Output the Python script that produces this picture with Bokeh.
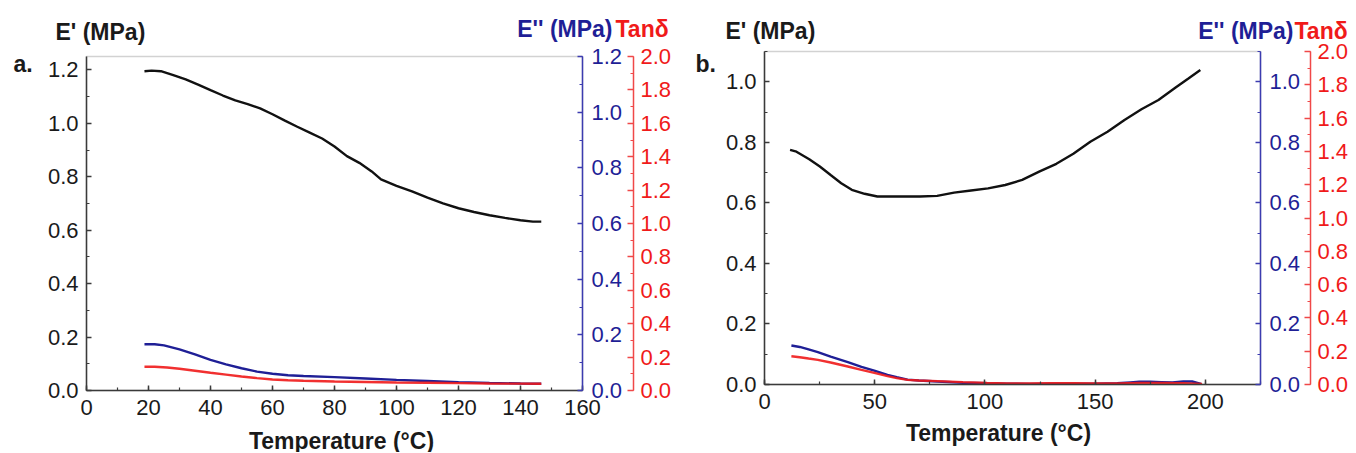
from bokeh.plotting import figure
from bokeh.models import (Range1d, LinearAxis, SingleIntervalTicker, NumeralTickFormatter,
                          Label, BoxAnnotation)
from bokeh.layouts import row
from bokeh.embed import file_html
from bokeh.resources import INLINE

# ---------------- data: panel a ----------------
a_temp_storage = [18.7, 21, 24, 28, 32, 36, 40, 44, 48, 52, 56, 60, 64, 68, 72, 76, 80, 84,
                  88, 92, 95, 100, 105, 110, 115, 120, 125, 130, 135, 140, 144, 146.7]
a_storage = [1.195, 1.197, 1.195, 1.18, 1.164, 1.145, 1.124, 1.104, 1.086, 1.072, 1.056, 1.034,
             1.01, 0.987, 0.965, 0.943, 0.913, 0.877, 0.852, 0.82, 0.79, 0.766, 0.745, 0.722,
             0.700, 0.682, 0.668, 0.656, 0.646, 0.637, 0.632, 0.632]
a_temp_loss = [18.7, 22, 25, 30, 35, 40, 45, 50, 55, 60, 65, 70, 80, 90, 100, 110, 120, 130, 140, 146.7]
a_loss = [0.166, 0.166, 0.162, 0.148, 0.13, 0.110, 0.094, 0.080, 0.068, 0.060, 0.055, 0.052,
          0.048, 0.043, 0.038, 0.034, 0.030, 0.027, 0.025, 0.024]
a_temp_tan = [18.7, 22, 26, 30, 35, 40, 45, 50, 55, 60, 65, 70, 80, 90, 100, 110, 120, 130, 140, 146.7]
a_tan = [0.142, 0.142, 0.138, 0.13, 0.118, 0.106, 0.095, 0.084, 0.074, 0.066, 0.061, 0.058,
         0.054, 0.051, 0.048, 0.046, 0.044, 0.042, 0.041, 0.040]

# ---------------- data: panel b ----------------
b_temp_storage = [11.6, 14.5, 20.3, 25.1, 30, 34.8, 39.6, 45.4, 51.2, 55, 62.8, 70.5, 78.3, 86,
                  93.7, 101.4, 109.2, 116.9, 124.6, 132.4, 140.1, 147.8, 155.6, 163.3, 171,
                  178.7, 186.5, 192.3, 197.7]
b_storage = [0.775, 0.769, 0.744, 0.72, 0.692, 0.665, 0.643, 0.63, 0.621, 0.621, 0.621, 0.621,
             0.623, 0.634, 0.641, 0.648, 0.659, 0.676, 0.703, 0.729, 0.762, 0.802, 0.835, 0.874,
             0.909, 0.94, 0.981, 1.011, 1.039]
b_temp_loss = [12.2, 16, 20, 24.2, 30, 37.8, 44, 49.8, 55.8, 60, 64.9, 70, 78.4, 90, 101, 110,
               120, 130, 140, 150, 160, 166, 170, 175, 180, 185, 190, 194, 198]
b_loss = [0.129, 0.124, 0.116, 0.107, 0.092, 0.074, 0.058, 0.046, 0.032, 0.024, 0.016, 0.013,
          0.010, 0.006, 0.004, 0.003, 0.002, 0.003, 0.003, 0.003, 0.004, 0.007, 0.009, 0.009,
          0.008, 0.007, 0.010, 0.010, 0.002]
b_temp_tan = [12.2, 16, 20, 24.2, 30, 37.8, 44, 49.8, 55.8, 60, 64.9, 70, 78.4, 90, 101, 110,
              120, 130, 140, 150, 160, 170, 180, 190, 198.5]
b_tan = [0.170, 0.164, 0.156, 0.148, 0.132, 0.108, 0.088, 0.070, 0.050, 0.038, 0.028, 0.024,
         0.020, 0.014, 0.010, 0.007, 0.006, 0.008, 0.008, 0.006, 0.006, 0.010, 0.009, 0.008, 0.004]

# ---------------- style ----------------
FONT = "Liberation Sans"
BLACK = "#1a1a1a"
AXGRAY = "#3a3a3a"
BLUE = "#1f1f96"
BLUE_AX = "#3c3cb0"
RED = "#f01a1a"
RED_AX = "#f04848"
TICK_FS = "22px"
TITLE_FS = "23px"
FIG_H = 452


def style_axis(ax, line_color, text_color, tin, minor_in, standoff):
    ax.axis_line_color = line_color
    ax.axis_line_width = 1.5
    ax.major_tick_line_color = line_color
    ax.minor_tick_line_color = line_color
    ax.major_tick_line_width = 1.5
    ax.minor_tick_line_width = 1.2
    ax.major_tick_in = tin
    ax.major_tick_out = 0
    ax.minor_tick_in = minor_in
    ax.minor_tick_out = 0
    ax.major_label_text_font = FONT
    ax.major_label_text_font_size = TICK_FS
    ax.major_label_text_color = text_color
    ax.major_label_standoff = standoff


def padded(lo, hi, pad_lo, pad_hi, span):
    k = (hi - lo) / span
    return (lo - pad_lo * k, hi + pad_hi * k)


def make_panel(width, box, xr, yr, blue_r, red_r, x_interval, red_gap,
               storage, loss, tan, texts):
    L, R, T, B = box                      # plot-area box in canvas pixels
    W, H = R - L, B - T
    xfull = padded(xr[0], xr[1], L, width - R, W)
    yfull = padded(yr[0], yr[1], FIG_H - B, T, H)
    bfull = padded(blue_r[0], blue_r[1], FIG_H - B, T, H)
    rfull = padded(red_r[0], red_r[1], FIG_H - B, T, H)

    p = figure(width=width, height=FIG_H, x_range=Range1d(*xfull), y_range=Range1d(*yfull),
               output_backend="svg", toolbar_location=None, title=None,
               min_border=0, min_border_left=0, min_border_right=0,
               min_border_top=0, min_border_bottom=0)
    p.grid.visible = False
    p.outline_line_color = None
    p.background_fill_color = "white"
    p.border_fill_color = "white"

    # plot-area frame (top border visible; others covered by axes)
    p.add_layout(BoxAnnotation(left=xr[0], right=xr[1], bottom=yr[0], top=yr[1],
                               fill_color=None, line_color="#6a6a6a", line_width=1.5,
                               level="underlay"))

    xa = p.xaxis[0]
    xa.ticker = SingleIntervalTicker(interval=x_interval, num_minor_ticks=2)
    xa.formatter = NumeralTickFormatter(format="0")
    xa.fixed_location = yr[0]
    xa.bounds = xr
    style_axis(xa, AXGRAY, BLACK, 5, 3, 9)

    ya = p.yaxis[0]
    ya.ticker = SingleIntervalTicker(interval=0.2, num_minor_ticks=2)
    ya.formatter = NumeralTickFormatter(format="0.0")
    ya.fixed_location = xr[0]
    ya.bounds = yr
    style_axis(ya, AXGRAY, BLACK, 5, 3, 8)

    p.extra_y_ranges = {"blue": Range1d(*bfull), "red": Range1d(*rfull)}
    blue_ax = LinearAxis(y_range_name="blue",
                         ticker=SingleIntervalTicker(interval=0.2, num_minor_ticks=2),
                         formatter=NumeralTickFormatter(format="0.0"),
                         fixed_location=xr[1], bounds=(blue_r[0], blue_r[1] + 0.0001))
    style_axis(blue_ax, BLUE_AX, BLUE, 5, 3, 9)
    red_ax = LinearAxis(y_range_name="red",
                        ticker=SingleIntervalTicker(interval=0.2, num_minor_ticks=2),
                        formatter=NumeralTickFormatter(format="0.0"),
                        fixed_location=xr[1] + red_gap * (xr[1] - xr[0]) / W,
                        bounds=(red_r[0], red_r[1] + 0.0001))
    style_axis(red_ax, RED_AX, RED, 6, 3, 7)
    p.add_layout(blue_ax, "right")
    p.add_layout(red_ax, "right")

    p.line(storage[0], storage[1], line_color="#111111", line_width=2.4)
    p.line(loss[0], loss[1], line_color=BLUE, line_width=2.4, y_range_name="blue")
    p.line(tan[0], tan[1], line_color=RED, line_width=2.4, y_range_name="red", line_alpha=0.9)

    def lab(text, px, py, color, align):
        x = xfull[0] + px * (xfull[1] - xfull[0]) / width
        y = yfull[1] - py * (yfull[1] - yfull[0]) / FIG_H
        p.add_layout(Label(x=x, y=y, text=text, text_font=FONT, text_font_style="bold",
                           text_font_size=TITLE_FS, text_color=color, text_align=align,
                           text_baseline="middle"))

    lab(texts["letter"], texts["letter_x"], 63, BLACK, "left")
    lab("E' (MPa)", texts["e1_x"], texts["e1_y"], BLACK, "left")
    lab("E'' (MPa)", texts["e2_x"], texts["e2_y"], BLUE, "right")
    lab("Tanδ", texts["tan_x"], texts["e2_y"], RED, "left")
    lab("Temperature (°C)", texts["xt_x"], texts["xt_y"], BLACK, "center")
    return p


pa = make_panel(680, (86, 582, 56, 390), (0, 160), (0, 1.25), (0, 1.2), (0, 2.0), 20, 51,
                (a_temp_storage, a_storage), (a_temp_loss, a_loss), (a_temp_tan, a_tan),
                dict(letter="a.", letter_x=13, e1_x=55, e1_y=31, e2_x=612, e2_y=28,
                     tan_x=615, xt_x=341, xt_y=440))
pb = make_panel(676, (84, 580, 51, 384), (0, 225), (0, 1.1), (0, 1.1), (0, 2.0), 50, 50,
                (b_temp_storage, b_storage), (b_temp_loss, b_loss), (b_temp_tan, b_tan),
                dict(letter="b.", letter_x=15, e1_x=45, e1_y=30, e2_x=613, e2_y=30,
                     tan_x=614, xt_x=318, xt_y=432))

layout = row(pa, pb)
open("out.html", "w").write(file_html(layout, INLINE))
